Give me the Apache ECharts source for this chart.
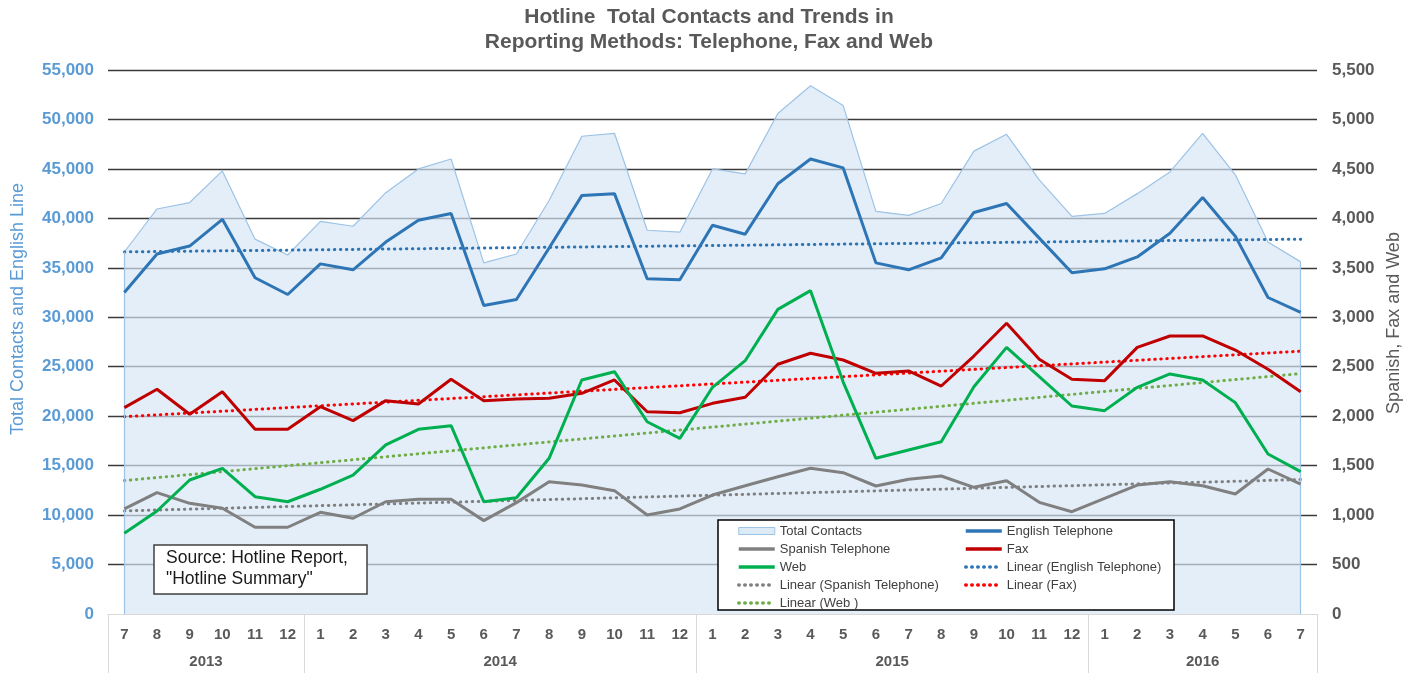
<!DOCTYPE html>
<html>
<head>
<meta charset="utf-8">
<title>Hotline Total Contacts and Trends</title>
<script src="https://cdn.jsdelivr.net/npm/echarts@6/dist/echarts.min.js"></script>
<style>
  html, body { margin: 0; padding: 0; background: #fff; }
  #chart { width: 1418px; height: 673px; }
</style>
</head>
<body>
<div id="chart"></div>
<script>
// months Jul 2013 .. Jul 2016
const months = ['7', '8', '9', '10', '11', '12',
  '1', '2', '3', '4', '5', '6', '7', '8', '9', '10', '11', '12',
  '1', '2', '3', '4', '5', '6', '7', '8', '9', '10', '11', '12',
  '1', '2', '3', '4', '5', '6', '7'];
const yearNames = ['2013', '2014', '2015', '2016'];
const monthsInYear = [6, 12, 12, 7];

// left axis
const totalContacts = [36600, 40950, 41600, 44800, 37900, 36300,
  39700, 39200, 42600, 45000, 46000, 35500, 36400, 41800, 48300, 48600, 38800, 38600,
  45000, 44500, 50600, 53400, 51400, 40700, 40300, 41500, 46800, 48500, 43900, 40200,
  40500, 42500, 44700, 48600, 44400, 37600, 35600];
const englishPhone = [32500, 36400, 37200, 39900, 34000, 32300,
  35400, 34800, 37600, 39800, 40500, 31200, 31800, 37000, 42300, 42500, 33900, 33800,
  39300, 38400, 43500, 46000, 45100, 35500, 34800, 36000, 40600, 41500, 38000, 34500,
  34900, 36100, 38500, 42100, 38200, 32000, 30500];

// right axis
const spanishPhone = [1062, 1227, 1119, 1069, 877, 877,
  1028, 968, 1135, 1159, 1159, 944, 1126, 1338, 1304, 1247, 1001, 1062,
  1203, 1297, 1388, 1473, 1429, 1294, 1362, 1395, 1281, 1348, 1129, 1034,
  1169, 1304, 1338, 1297, 1213, 1466, 1314];
const fax = [2086, 2272, 2019, 2248, 1867, 1867,
  2096, 1955, 2157, 2123, 2373, 2157, 2174, 2181, 2231, 2366, 2045, 2035,
  2130, 2191, 2525, 2636, 2568, 2433, 2457, 2305, 2608, 2939, 2575, 2373,
  2359, 2696, 2811, 2811, 2669, 2474, 2248];
const web = [816, 1041, 1355, 1473, 1186, 1135,
  1261, 1405, 1709, 1867, 1904, 1135, 1176, 1574, 2366, 2450, 1944, 1776,
  2292, 2561, 3080, 3269, 2345, 1574, 1658, 1742, 2298, 2696, 2400, 2103,
  2056, 2292, 2427, 2366, 2137, 1618, 1439];

// least squares trend, like the spreadsheet "Linear" trendline
function linearTrend(values) {
  const n = values.length;
  let sx = 0, sy = 0, sxy = 0, sxx = 0;
  values.forEach((v, i) => { sx += i; sy += v; sxy += i * v; sxx += i * i; });
  const b = (n * sxy - sx * sy) / (n * sxx - sx * sx);
  const a = (sy - b * sx) / n;
  return values.map((v, i) => +(a + b * i).toFixed(1));
}

// year group centres and borders on the category index scale
const yearCenters = [];
const yearBorders = [-0.5];
let start = 0;
monthsInYear.forEach((cnt) => {
  yearCenters.push(start + (cnt - 1) / 2);
  start += cnt;
  yearBorders.push(start - 0.5);
});

const FONT = "'Liberation Sans', Arial, sans-serif";
const NARROW = "'Liberation Sans Narrow', 'Liberation Sans', Arial, sans-serif";
const dotted = { type: [0.5, 5.5], cap: 'round', width: 3 };

const legendBase = {
  orient: 'vertical', top: 524, padding: 0,
  itemWidth: 36, itemHeight: 7, itemGap: 4,
  itemStyle: { opacity: 0 },
  lineStyle: { width: 3.5 },
  textStyle: { fontSize: 13, color: '#404040', lineHeight: 14 },
};

const chart = echarts.init(document.getElementById('chart'));

const option = {
  animation: false,
  textStyle: { fontFamily: FONT },
  title: {
    text: 'Hotline  Total Contacts and Trends in\nReporting Methods: Telephone, Fax and Web',
    left: 'center',
    top: 0,
    textStyle: {
      fontFamily: FONT, fontSize: 21, fontWeight: 'bold', color: '#595959', lineHeight: 25,
    },
  },
  grid: { left: 108, right: 101, top: 70, bottom: 59, containLabel: false },
  legend: [
    Object.assign({}, legendBase, {
      left: 737,
      data: [
        { name: 'Total Contacts', icon: 'rect',
          itemStyle: { opacity: 1, color: '#DDEBF7', borderColor: '#9DC3E6', borderWidth: 1 } },
        'Spanish Telephone', 'Web', 'Linear (Spanish Telephone)', 'Linear (Web )',
      ],
    }),
    Object.assign({}, legendBase, {
      left: 964,
      data: ['English Telephone', 'Fax', 'Linear (English Telephone)', 'Linear (Fax)'],
    }),
  ],
  xAxis: [
    {
      type: 'category',
      data: months,
      boundaryGap: true,
      axisLine: { show: true, lineStyle: { color: '#D9D9D9', width: 1 } },
      axisTick: { show: false },
      axisLabel: {
        margin: 13, color: '#595959', fontWeight: 'bold', fontSize: 15, fontFamily: NARROW,
        interval: 0,
      },
    },
    {
      type: 'value',
      position: 'bottom',
      min: -0.5,
      max: months.length - 0.5,
      axisLine: { show: false },
      splitLine: { show: false },
      axisTick: {
        show: true, inside: false, length: 60, customValues: yearBorders,
        lineStyle: { color: '#D9D9D9', width: 1 },
      },
      axisLabel: {
        customValues: yearCenters,
        margin: 40,
        color: '#595959', fontWeight: 'bold', fontSize: 15, fontFamily: NARROW,
        formatter: (v) => yearNames[yearCenters.indexOf(v)] || '',
      },
    },
  ],
  yAxis: [
    {
      type: 'value',
      min: 0, max: 55000, interval: 5000,
      name: 'Total Contacts and English Line',
      nameLocation: 'middle',
      nameGap: 81,
      nameTextStyle: { color: '#5B9BD5', fontSize: 18, padding: [0, 0, 0, 66] },
      axisLine: { show: false },
      axisTick: { show: false },
      axisLabel: {
        margin: 14, color: '#5B9BD5', fontWeight: 'bold', fontSize: 17,
        formatter: (v) => v.toLocaleString('en-US'),
      },
      splitLine: { show: true, showMinLine: false, lineStyle: { color: '#3a3a3a', width: 1.3 } },
    },
    {
      type: 'value',
      min: 0, max: 5500, interval: 500,
      name: 'Spanish, Fax and Web',
      nameLocation: 'middle',
      nameGap: 67,
      nameTextStyle: { color: '#595959', fontSize: 18, padding: [0, 0, 0, 38] },
      axisLine: { show: false },
      axisTick: { show: false },
      axisLabel: {
        margin: 15, color: '#595959', fontWeight: 'bold', fontSize: 17,
        formatter: (v) => v.toLocaleString('en-US'),
      },
      splitLine: { show: false },
    },
  ],
  series: [
    {
      name: 'Total Contacts',
      type: 'line',
      yAxisIndex: 0,
      data: totalContacts,
      symbol: 'none',
      z: 1,
      itemStyle: { color: '#9DC3E6' },
      lineStyle: { color: '#9DC3E6', width: 1.2 },
      areaStyle: { color: 'rgba(214,230,245,0.68)', opacity: 1 },
      markLine: {
        silent: true,
        symbol: 'none',
        label: { show: false },
        lineStyle: { color: '#9DC3E6', width: 1.2, type: 'solid' },
        data: [
          [{ coord: [0, 0] }, { coord: [0, totalContacts[0]] }],
          [{ coord: [months.length - 1, 0] },
            { coord: [months.length - 1, totalContacts[months.length - 1]] }],
        ],
      },
    },
    {
      name: 'English Telephone', type: 'line', yAxisIndex: 0, data: englishPhone,
      symbol: 'none', z: 5,
      itemStyle: { color: '#2E75B6' }, lineStyle: { color: '#2E75B6', width: 3 },
    },
    {
      name: 'Spanish Telephone', type: 'line', yAxisIndex: 1, data: spanishPhone,
      symbol: 'none', z: 5,
      itemStyle: { color: '#808080' }, lineStyle: { color: '#808080', width: 3 },
    },
    {
      name: 'Fax', type: 'line', yAxisIndex: 1, data: fax,
      symbol: 'none', z: 5,
      itemStyle: { color: '#C00000' }, lineStyle: { color: '#C00000', width: 3 },
    },
    {
      name: 'Web', type: 'line', yAxisIndex: 1, data: web,
      symbol: 'none', z: 5,
      itemStyle: { color: '#00B050' }, lineStyle: { color: '#00B050', width: 3 },
    },
    {
      name: 'Linear (English Telephone)', type: 'line', yAxisIndex: 0,
      data: linearTrend(englishPhone), symbol: 'none', z: 4,
      itemStyle: { color: '#2E75B6' }, lineStyle: Object.assign({ color: '#2E75B6' }, dotted),
    },
    {
      name: 'Linear (Spanish Telephone)', type: 'line', yAxisIndex: 1,
      data: linearTrend(spanishPhone), symbol: 'none', z: 4,
      itemStyle: { color: '#808080' }, lineStyle: Object.assign({ color: '#808080' }, dotted),
    },
    {
      name: 'Linear (Fax)', type: 'line', yAxisIndex: 1,
      data: linearTrend(fax), symbol: 'none', z: 4,
      itemStyle: { color: '#FF0000' }, lineStyle: Object.assign({ color: '#FF0000' }, dotted),
    },
    {
      name: 'Linear (Web )', type: 'line', yAxisIndex: 1,
      data: linearTrend(web), symbol: 'none', z: 4,
      itemStyle: { color: '#70AD47' }, lineStyle: Object.assign({ color: '#70AD47' }, dotted),
    },
  ],
  graphic: [
    {
      // legend frame
      type: 'rect', z: 3, silent: true,
      shape: { x: 718, y: 520, width: 456, height: 90 },
      style: { fill: '#fff', stroke: '#000', lineWidth: 1.5 },
    },
    {
      // source note
      type: 'rect', z: 10, silent: true,
      shape: { x: 154, y: 545, width: 213, height: 49 },
      style: { fill: '#fff', stroke: '#404040', lineWidth: 1.5 },
    },
    {
      type: 'text', z: 11, silent: true, x: 166, y: 548,
      style: {
        text: 'Source: Hotline Report,\n"Hotline Summary"',
        font: '17.5px ' + FONT, fill: '#1a1a1a', lineHeight: 21,
      },
    },
  ],
};

chart.setOption(option);
</script>
</body>
</html>
